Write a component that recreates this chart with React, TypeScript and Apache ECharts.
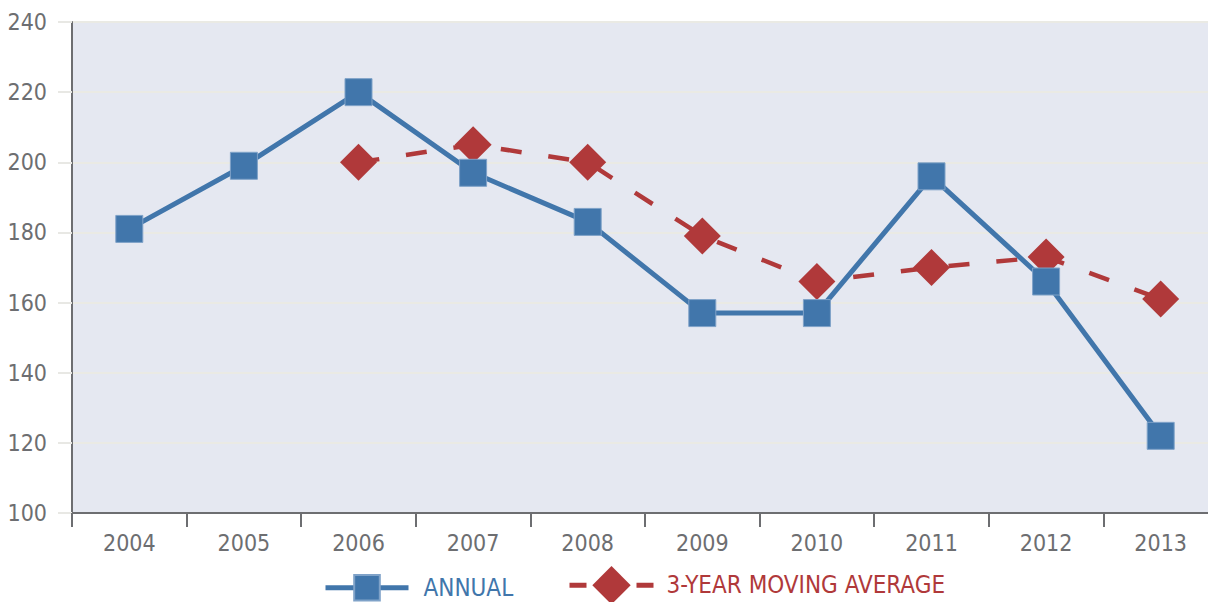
import React, { useEffect, useRef } from "react";
import * as echarts from "echarts";

const years = ["2004", "2005", "2006", "2007", "2008", "2009", "2010", "2011", "2012", "2013"];
const annual = [181, 199, 220, 197, 183, 157, 157, 196, 166, 122];
const movingAvg = [null, null, 200, 205, 200, 179, 166, 170, 173, 161];
const yTicks = { min: 100, max: 240, interval: 20 };

const BLUE = "#4176AB";
const RED = "#B0393A";
const GRAY = "#6D6E71";
const FONT = "'Liberation Sans Narrow', 'Arial Narrow', 'DejaVu Sans Condensed', sans-serif";

export default function App() {
  const ref = useRef<HTMLDivElement>(null);
  useEffect(() => {
    const chart = echarts.init(ref.current!, null, { renderer: "svg" });
    chart.setOption({
      animation: false,
      textStyle: { fontFamily: FONT },
      grid: {
        left: 72,
        top: 22,
        right: 14,
        bottom: 89,
        show: true,
        backgroundColor: "#E5E8F1",
        borderWidth: 0,
      },
      legend: [
        {
          data: [{ name: "ANNUAL", textStyle: { color: BLUE } }],
          left: 318,
          top: 585 - 16,
          itemWidth: 83,
          itemHeight: 32,
          lineStyle: { width: 5 },
          textStyle: { fontSize: 24, fontFamily: FONT, padding: [0, 0, 0, 10] },
        },
        {
          data: [{ name: "3-YEAR MOVING AVERAGE", textStyle: { color: RED } }],
          left: 562,
          top: 585 - 24,
          itemWidth: 84,
          itemHeight: 48,
          lineStyle: { width: 5, type: [17, 50, 17] },
          textStyle: { fontSize: 24, fontFamily: FONT, padding: [0, 0, 0, 8] },
        },
      ],
      xAxis: {
        type: "category",
        data: years,
        boundaryGap: true,
        axisLine: { lineStyle: { color: GRAY, width: 2 } },
        axisTick: { show: true, length: 14, lineStyle: { color: GRAY, width: 2 } },
        axisLabel: { color: GRAY, fontSize: 23, fontFamily: FONT, margin: 18 },
        splitLine: { show: false },
      },
      yAxis: {
        type: "value",
        min: yTicks.min,
        max: yTicks.max,
        interval: yTicks.interval,
        axisLine: { show: true, lineStyle: { color: GRAY, width: 2 } },
        axisTick: { show: true, length: 14, lineStyle: { color: "#E8E8E4", width: 2 } },
        axisLabel: { color: GRAY, fontSize: 23, fontFamily: FONT, margin: 25 },
        splitLine: { show: true, lineStyle: { color: "#EAEAE4", width: 2 } },
      },
      series: [
        {
          name: "3-YEAR MOVING AVERAGE",
          type: "line",
          data: movingAvg,
          z: 2,
          symbol: "diamond",
          symbolSize: 37,
          itemStyle: { color: RED },
          lineStyle: { color: RED, width: 4.5, type: [21, 27] },
        },
        {
          name: "ANNUAL",
          type: "line",
          data: annual,
          z: 3,
          symbol: "rect",
          symbolSize: 27,
          itemStyle: { color: BLUE, borderColor: "#7FA2C8", borderWidth: 1 },
          lineStyle: { color: BLUE, width: 5 },
        },
      ],
    });
    return () => chart.dispose();
  }, []);
  return (
    <div style={{ position: "fixed", left: 0, top: 0, width: 1208, height: 602, overflow: "hidden", background: "#fff" }}>
      <div ref={ref} style={{ width: 1232, height: 602 }} />
    </div>
  );
}
